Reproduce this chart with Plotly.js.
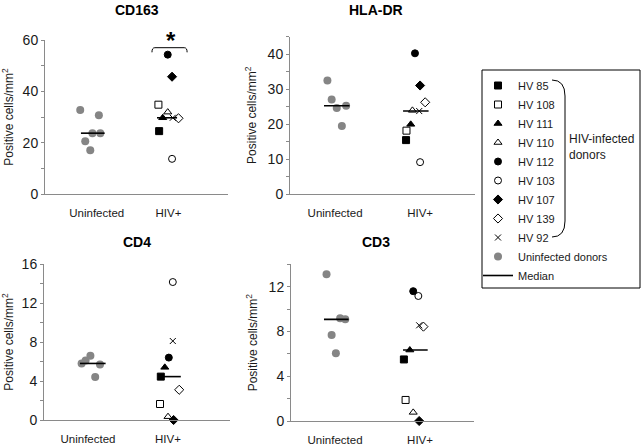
<!DOCTYPE html>
<html>
<head>
<meta charset="utf-8">
<script src="https://cdn.plot.ly/plotly-3.0.1.min.js"></script>
<style>
  html, body { margin: 0; padding: 0; background: #fff; }
  #myPlot { width: 641px; height: 447px; }
</style>
</head>
<body>
<div id="myPlot"></div>
<script>
// groups and donors
var groups = ["Uninfected", "HIV+"];
var donors = ["HV 85", "HV 108", "HV 111", "HV 110", "HV 112", "HV 103", "HV 107", "HV 139", "HV 92"];
var panelNames = ["CD163", "HLA-DR", "CD4", "CD3"];

// CD163
var cd163Uninf = [32.7, 30.7, 23.7, 23.7, 20.6, 17.0];
var cd163UninfX = [0.77, 1.03, 0.94, 1.05, 0.84, 0.91];
var cd163Hiv = [24.5, 34.8, 29.7, 31.9, 54.3, 13.7, 45.7, 29.5, 29.7];
var cd163HivX = [1.87, 1.86, 1.92, 1.99, 1.99, 2.05, 2.05, 2.14, 2.06];

// HLA-DR
var hlaUninf = [32.4, 27.0, 24.6, 25.2, 19.4];
var hlaUninfX = [0.91, 0.96, 1.02, 1.13, 1.08];
var hlaHiv = [15.4, 18.1, 19.9, 23.9, 40.2, 9.1, 31.0, 26.2, 23.7];
var hlaHivX = [1.835, 1.84, 1.89, 1.91, 1.94, 2.0, 2.0, 2.06, 1.99];

// CD4
var cd4Uninf = [5.8, 6.1, 6.6, 5.7, 4.4];
var cd4UninfX = [0.92, 0.97, 1.03, 1.15, 1.09];
var cd4Hiv = [4.45, 1.64, 5.4, 0.34, 6.4, 14.15, 0, 3.1, 8.1];
var cd4HivX = [1.91, 1.90, 1.96, 2.0, 2.01, 2.06, 2.07, 2.14, 2.06];

// CD3
var cd3Uninf = [13.1, 9.17, 9.08, 7.68, 6.05];
var cd3UninfX = [0.90, 1.06, 1.12, 0.96, 1.01];
var cd3Hiv = [5.5, 1.88, 6.34, 0.77, 11.6, 11.17, 0, 8.43, 8.55];
var cd3HivX = [1.81, 1.83, 1.88, 1.92, 1.92, 1.98, 1.99, 2.04, 1.99];

// extent of the median bars
var cd163MedianX = [[0.78, 1.11], [1.84, 2.12]];
var hlaMedianX = [[0.87, 1.17], [1.80, 2.10]];
var cd4MedianX = [[0.90, 1.22], [1.89, 2.16]];
var cd3MedianX = [[0.87, 1.16], [1.80, 2.09]];

var donorSymbols = ["square", "square-open", "triangle-up", "triangle-up-open", "circle",
                    "circle-open", "diamond", "diamond-open", "x-thin-open"];
var donorSizes = [7, 7, 7, 7, 7, 7, 7, 7, 6];

var W = 641, H = 447;
var font = "Liberation Sans, Arial, sans-serif";
var axisGrey = "#8a8a8a";

function median(arr) {
    var s = arr.slice().sort(function (a, b) { return a - b; });
    var m = Math.floor(s.length / 2);
    return s.length % 2 ? s[m] : (s[m - 1] + s[m]) / 2;
}
function px(x) { return x / W; }
function py(y) { return 1 - y / H; }

// pixel boxes of the four plot areas: [left, right, top, bottom], and axis ranges
var panels = [
    { name: panelNames[0], uy: cd163Uninf, ux: cd163UninfX, hy: cd163Hiv, hx: cd163HivX, mx: cd163MedianX,
      box: [45, 228, 40, 194], xr: [0.279, 2.83], yr: [0, 60], dtick: 20 },
    { name: panelNames[1], uy: hlaUninf, ux: hlaUninfX, hy: hlaHiv, hx: hlaHivX, mx: hlaMedianX,
      box: [290, 475, 36.5, 194], xr: [0.47, 2.646], yr: [0, 45], dtick: 10 },
    { name: panelNames[2], uy: cd4Uninf, ux: cd4UninfX, hy: cd4Hiv, hx: cd4HivX, mx: cd4MedianX,
      box: [44, 230, 264, 420], xr: [0.45, 2.775], yr: [0, 16], dtick: 4 },
    { name: panelNames[3], uy: cd3Uninf, ux: cd3UninfX, hy: cd3Hiv, hx: cd3HivX, mx: cd3MedianX,
      box: [291, 474, 264.3, 421], xr: [0.482, 2.635], yr: [0, 14], dtick: 4 }
];

var data = [];
var layout = {
    width: W, height: H,
    margin: { l: 0, r: 0, t: 0, b: 0 },
    paper_bgcolor: "#fff", plot_bgcolor: "#fff",
    font: { family: font, size: 12, color: "#1a1a1a" },
    showlegend: true,
    legend: {
        x: 478 / W, xanchor: "left", y: 1 - 71 / H, yanchor: "top",
        bgcolor: "rgba(0,0,0,0)", borderwidth: 0, tracegroupgap: 0,
        font: { family: font, size: 11, color: "#1a1a1a" }
    },
    annotations: [],
    shapes: []
};

panels.forEach(function (p, i) {
    var n = i === 0 ? "" : String(i + 1);
    var xa = "x" + n, ya = "y" + n;
    var first = i === 0;

    donors.forEach(function (d, k) {
        data.push({
            x: [p.hx[k]], y: [p.hy[k]], xaxis: xa, yaxis: ya,
            type: "scatter", mode: "markers", name: d,
            legendgroup: d, showlegend: first, cliponaxis: false,
            marker: { symbol: donorSymbols[k], size: donorSizes[k], color: "#000",
                      line: { color: "#000", width: 1 } }
        });
    });

    data.push({
        x: p.ux, y: p.uy, xaxis: xa, yaxis: ya,
        type: "scatter", mode: "markers", name: "Uninfected donors",
        legendgroup: "uninf", showlegend: first, cliponaxis: false,
        marker: { symbol: "circle", size: 8, color: "#858585" }
    });

    [p.uy, p.hy].forEach(function (vals, g) {
        var m = median(vals);
        data.push({
            x: p.mx[g], y: [m, m], xaxis: xa, yaxis: ya,
            type: "scatter", mode: "lines", name: "Median",
            legendgroup: "median", showlegend: first && g === 0, cliponaxis: false,
            line: { color: "#000", width: 1.6 }
        });
    });

    var b = p.box;
    layout["xaxis" + n] = {
        domain: [b[0] / W, b[1] / W], anchor: ya, range: p.xr,
        showline: true, linecolor: axisGrey, linewidth: 1,
        showgrid: false, zeroline: false, ticks: "",
        tickvals: [1, 2], ticktext: groups, ticklabelstandoff: 8,
        tickfont: { size: 11.5, color: "#1a1a1a" }
    };
    layout["yaxis" + n] = {
        domain: [1 - b[3] / H, 1 - b[2] / H], anchor: xa, range: p.yr,
        showline: true, linecolor: axisGrey, linewidth: 1,
        showgrid: false, zeroline: false,
        ticks: "outside", ticklen: 3, tickcolor: axisGrey, dtick: p.dtick, tick0: 0,
        minor: { dtick: p.dtick / 2, ticks: "outside", ticklen: 3, tickcolor: axisGrey },
        tickfont: { size: 14, color: "#1a1a1a" },
        title: { text: "Positive cells/mm<sup>2</sup>", font: { size: 12 }, standoff: 8 }
    };

    layout.annotations.push({
        xref: "paper", yref: "paper",
        x: (b[0] + b[1]) / 2 / W + (i % 2 === 0 ? 0.0 : -0.01), y: py(i < 2 ? 10 : 242),
        xanchor: "center", yanchor: "middle", showarrow: false,
        text: "<b>" + p.name + "</b>", font: { size: 14, color: "#000" }
    });
});

// significance bracket on CD163
layout.shapes.push({
    type: "path", xref: "x", yref: "y",
    path: "M 1.77,55.2 Q 1.77,57 1.81,57 L 2.22,57 Q 2.26,57 2.26,55.2",
    line: { color: "#000", width: 1 }
});
layout.annotations.push({
    xref: "paper", yref: "paper", x: px(171), y: py(40), showarrow: false,
    xanchor: "center", yanchor: "middle",
    text: "<b>*</b>", font: { size: 24, color: "#000" }
});

// legend frame, brace and group label
layout.shapes.push({
    type: "rect", xref: "paper", yref: "paper",
    x0: px(482), x1: px(640), y0: py(288), y1: py(70),
    line: { color: "#000", width: 1 }
});
layout.shapes.push({
    type: "path", xref: "paper", yref: "paper",
    path: "M " + px(552) + "," + py(80) + " Q " + px(565) + "," + py(80) + " " + px(565) + "," + py(96) +
          " L " + px(565) + "," + py(221) + " Q " + px(565) + "," + py(237) + " " + px(552) + "," + py(237),
    line: { color: "#000", width: 1 }
});
layout.annotations.push({
    xref: "paper", yref: "paper", x: px(567), y: py(147),
    xanchor: "left", yanchor: "middle", align: "left", showarrow: false,
    text: "HIV-infected<br>donors", font: { size: 12, color: "#1a1a1a" }
});

Plotly.newPlot("myPlot", data, layout, { staticPlot: true });
</script>
</body>
</html>
